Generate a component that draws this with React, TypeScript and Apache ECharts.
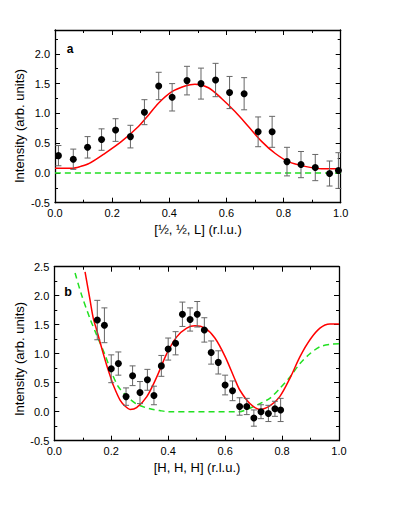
import React, { useEffect, useRef } from 'react';
import * as echarts from 'echarts';

const FONT = '"Liberation Sans", Arial, Helvetica, sans-serif';

// Panel a: measured points [1/2, 1/2, L]
const aX = [0.012, 0.064, 0.114, 0.163, 0.212, 0.264, 0.313, 0.363, 0.41, 0.462, 0.511, 0.562, 0.611, 0.662, 0.711, 0.76, 0.812, 0.861, 0.911, 0.961, 0.992];
const aY = [0.29, 0.23, 0.43, 0.56, 0.72, 0.61, 1.02, 1.46, 1.27, 1.55, 1.5, 1.56, 1.35, 1.33, 0.69, 0.69, 0.19, 0.14, 0.09, -0.01, 0.04];
const aErr = [0.17, 0.17, 0.18, 0.18, 0.19, 0.19, 0.21, 0.23, 0.23, 0.24, 0.26, 0.28, 0.27, 0.27, 0.25, 0.26, 0.24, 0.22, 0.22, 0.21, 0.3];
// Panel a: fit (red) and model (green dashed)
const aFitX = [0, 0.06, 0.09, 0.12, 0.175, 0.233, 0.292, 0.327, 0.362, 0.408, 0.455, 0.49, 0.537, 0.583, 0.63, 0.677, 0.723, 0.77, 0.817, 0.875, 0.933, 1.0];
const aFitY = [0.08, 0.08, 0.11, 0.16, 0.33, 0.53, 0.78, 0.97, 1.17, 1.36, 1.46, 1.49, 1.43, 1.25, 1.03, 0.78, 0.53, 0.33, 0.19, 0.11, 0.07, 0.07];
const aModelX = [0, 1];
const aModelY = [0, 0];

// Panel b: measured points [H, H, H]
const bX = [0.151, 0.176, 0.2, 0.225, 0.252, 0.275, 0.301, 0.327, 0.35, 0.376, 0.4, 0.426, 0.45, 0.477, 0.502, 0.527, 0.551, 0.576, 0.6, 0.626, 0.651, 0.676, 0.701, 0.726, 0.752, 0.775, 0.795];
const bY = [1.58, 1.49, 0.74, 0.83, 0.26, 0.62, 0.33, 0.55, 0.28, 0.79, 1.08, 1.18, 1.68, 1.59, 1.68, 1.41, 1.02, 0.85, 0.46, 0.36, 0.09, 0.09, -0.11, 0.0, -0.03, 0.05, 0.03];
const bErr = [0.34, 0.3, 0.24, 0.2, 0.15, 0.17, 0.19, 0.18, 0.16, 0.18, 0.19, 0.2, 0.21, 0.2, 0.22, 0.21, 0.2, 0.2, 0.17, 0.17, 0.15, 0.14, 0.14, 0.12, 0.14, 0.13, 0.2];
// Panel b: fit (red) and model (green dashed)
const bFitX = [0.108, 0.125, 0.137, 0.15, 0.16, 0.175, 0.184, 0.2, 0.207, 0.231, 0.25, 0.266, 0.289, 0.325, 0.36, 0.395, 0.43, 0.465, 0.494, 0.529, 0.564, 0.6, 0.635, 0.652, 0.687, 0.722, 0.757, 0.792, 0.828, 0.863, 0.898, 0.933, 0.968, 1.0];
const bFitY = [2.41, 1.94, 1.61, 1.39, 1.21, 0.95, 0.8, 0.56, 0.46, 0.2, 0.09, 0.04, 0.07, 0.26, 0.6, 1.0, 1.29, 1.44, 1.48, 1.44, 1.27, 0.95, 0.55, 0.37, 0.14, 0.04, 0.1, 0.26, 0.58, 0.95, 1.24, 1.44, 1.51, 1.51];
const bModelX = [0.073, 0.096, 0.125, 0.149, 0.178, 0.2, 0.225, 0.254, 0.29, 0.336, 0.37, 0.4, 0.65, 0.687, 0.722, 0.757, 0.792, 0.828, 0.863, 0.898, 0.933, 0.968, 1.0];
const bModelY = [2.39, 2.01, 1.61, 1.32, 0.98, 0.69, 0.43, 0.27, 0.13, 0.05, 0.02, 0.0, 0.0, 0.06, 0.14, 0.23, 0.4, 0.6, 0.83, 1.0, 1.12, 1.16, 1.17];

const xTickStep = 0.2;
const yTickStep = 0.5;

const pairs = (xs: number[], ys: number[]) => xs.map((x, i) => [x, ys[i]]);
const triples = (xs: number[], ys: number[], es: number[]) => xs.map((x, i) => [x, ys[i], es[i]]);

export default function App() {
  const ref = useRef<HTMLDivElement>(null);
  useEffect(() => {
    const chart = echarts.init(ref.current!, null, { renderer: 'svg' });
    const axisLine = { show: true, onZero: false, lineStyle: { color: '#000', width: 1.3 } };
    const tick = { show: true, inside: true, length: 5, lineStyle: { color: '#000', width: 1 } };
    const minor = { show: true, splitNumber: 2, length: 3, lineStyle: { color: '#000', width: 1 } };
    const label = (show: boolean) => ({
      show,
      color: '#000',
      fontSize: 11,
      fontFamily: FONT,
      margin: 5,
      formatter: (v: number) => v.toFixed(1),
    });
    const xAxis = (gridIndex: number, position: string, show: boolean) => ({
      type: 'value', gridIndex, position, min: 0, max: 1, interval: xTickStep,
      axisLine, axisTick: tick, minorTick: minor, axisLabel: label(show), splitLine: { show: false },
    });
    const yAxis = (gridIndex: number, position: string, show: boolean, max: number) => ({
      type: 'value', gridIndex, position, min: -0.5, max, interval: yTickStep,
      axisLine, axisTick: tick, minorTick: minor,
      axisLabel: { ...label(show), margin: 5, showMaxLabel: max === 2.5 },
      splitLine: { show: false },
    });
    const errSeries = (axisIdx: number, data: number[][]) => ({
      type: 'custom', xAxisIndex: axisIdx, yAxisIndex: axisIdx, z: 3, clip: false,
      data,
      renderItem: (params: any, api: any) => {
        const x = api.value(0), y = api.value(1), e = api.value(2);
        const t = api.coord([x, y + e]);
        const b = api.coord([x, y - e]);
        const w = 3;
        const st = { stroke: '#666', lineWidth: 1 };
        return {
          type: 'group',
          children: [
            { type: 'line', shape: { x1: t[0], y1: t[1], x2: b[0], y2: b[1] }, style: st },
            { type: 'line', shape: { x1: t[0] - w, y1: t[1], x2: t[0] + w, y2: t[1] }, style: st },
            { type: 'line', shape: { x1: b[0] - w, y1: b[1], x2: b[0] + w, y2: b[1] }, style: st },
          ],
        };
      },
    });
    const fit = (axisIdx: number, data: number[][]) => ({
      type: 'line', xAxisIndex: axisIdx, yAxisIndex: axisIdx, data, showSymbol: false, smooth: 0.3, z: 2,
      lineStyle: { color: '#ff0000', width: 1.5 },
    });
    const model = (axisIdx: number, data: number[][]) => ({
      type: 'line', xAxisIndex: axisIdx, yAxisIndex: axisIdx, data, showSymbol: false, smooth: 0.3, z: 2,
      lineStyle: { color: '#22e022', width: 1.5, type: [6, 4] },
    });
    const pts = (axisIdx: number, data: number[][]) => ({
      type: 'scatter', xAxisIndex: axisIdx, yAxisIndex: axisIdx, data, symbol: 'circle', symbolSize: 7, z: 4,
      itemStyle: { color: '#000', opacity: 1 },
    });
    const txt = (t: string, x: number, y: number, size: number, bold = false, rot = 0) => ({
      type: 'text', x, y, rotation: rot,
      style: { text: t, fontSize: size, fontFamily: FONT, fontWeight: bold ? 'bold' : 'normal', fill: '#000', align: 'center', verticalAlign: 'middle' },
    });
    const option: any = {
      animation: false,
      backgroundColor: '#fff',
      grid: [
        { left: 55, top: 30, width: 285.7, height: 172.7 },
        { left: 54.3, top: 266.7, width: 284.7, height: 174 },
      ],
      xAxis: [
        xAxis(0, 'bottom', true), xAxis(0, 'top', false),
        xAxis(1, 'bottom', true), xAxis(1, 'top', false),
      ],
      yAxis: [
        yAxis(0, 'left', true, 2.4), yAxis(0, 'right', false, 2.4),
        yAxis(1, 'left', true, 2.5), yAxis(1, 'right', false, 2.5),
      ],
      series: [
        model(0, pairs(aModelX, aModelY)),
        fit(0, pairs(aFitX, aFitY)),
        errSeries(0, triples(aX, aY, aErr)),
        pts(0, pairs(aX, aY)),
        model(2, pairs(bModelX, bModelY)),
        fit(2, pairs(bFitX, bFitY)),
        errSeries(2, triples(bX, bY, bErr)),
        pts(2, pairs(bX, bY)),
      ],
      graphic: [
        txt('Intensity (arb. units)', 19, 126, 13, false, Math.PI / 2),
        txt('Intensity (arb. units)', 19, 359, 13, false, Math.PI / 2),
        txt('[½, ½, L] (r.l.u.)', 198, 229, 13),
        txt('[H, H, H] (r.l.u.)', 197, 467, 13),
        txt('a', 70, 49, 12, true),
        txt('b', 68, 292, 12.5, true),
      ],
    };
    chart.setOption(option);
    return () => chart.dispose();
  }, []);
  return <div ref={ref} style={{ position: 'absolute', left: 0, top: 0, width: 395, height: 511, background: '#fff' }} />;
}
